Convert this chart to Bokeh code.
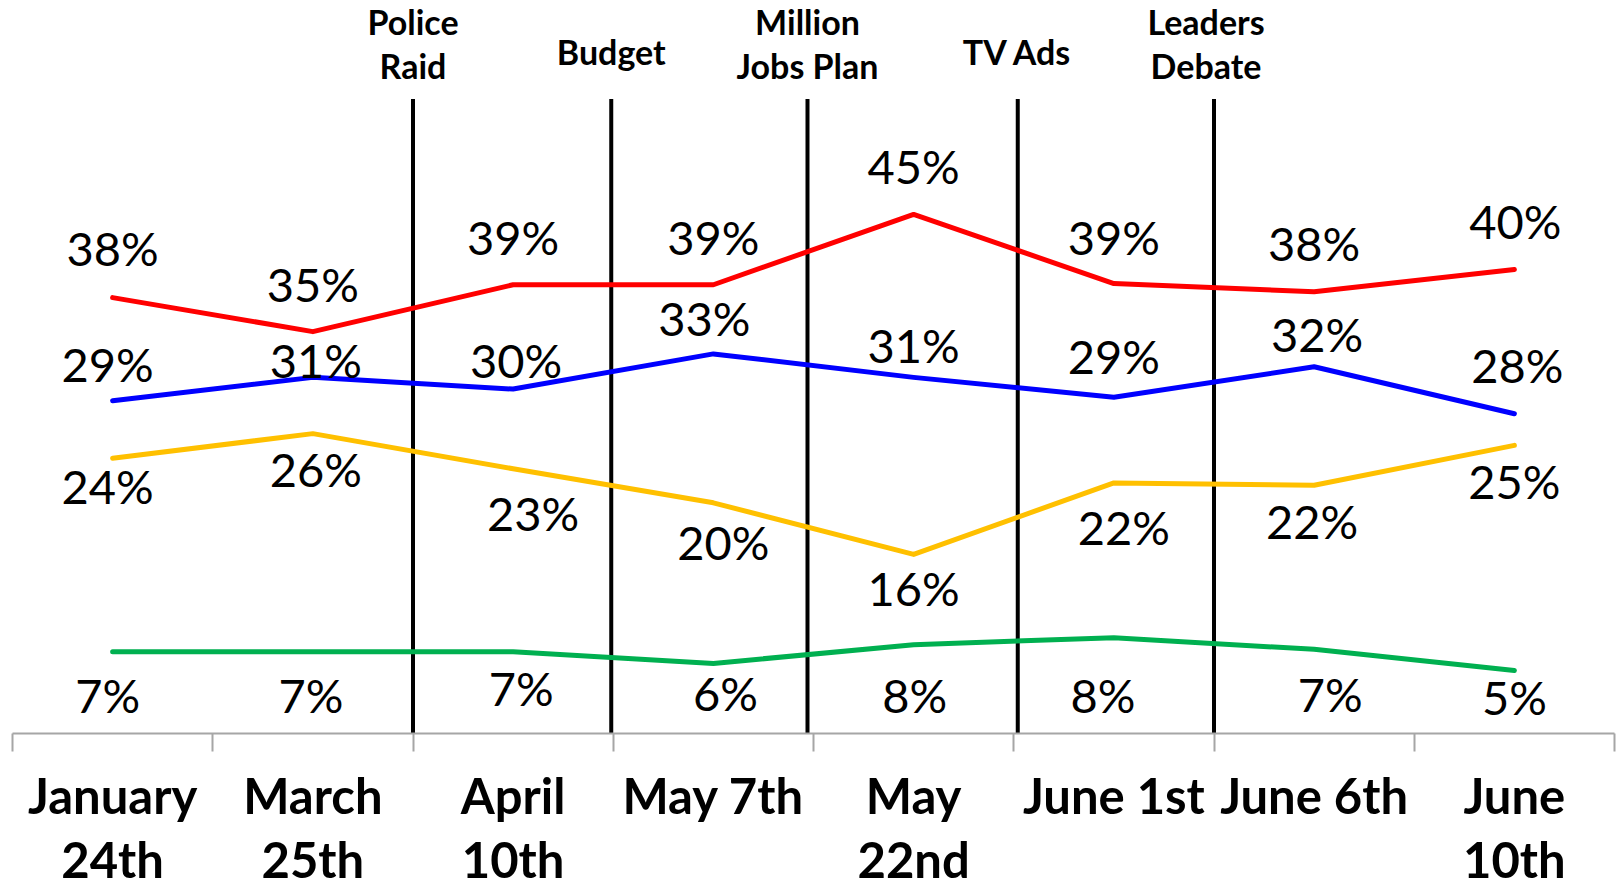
from bokeh.plotting import figure
from bokeh.models import ColumnDataSource, Range1d, FixedTicker
from bokeh.core.properties import value
from bokeh.embed import file_html
from bokeh.resources import INLINE

# ---------------- data ----------------
categories = ["January\n24th", "March\n25th", "April\n10th", "May 7th",
              "May\n22nd", "June 1st", "June 6th", "June\n10th"]

red_values = [37.9, 35.0, 39.0, 39.0, 45.0, 39.1, 38.4, 40.3]
blue_values = [29.1, 31.1, 30.1, 33.1, 31.1, 29.4, 32.0, 28.0]
yellow_values = [24.2, 26.3, 23.3, 20.4, 16.0, 22.1, 21.9, 25.3]
green_values = [7.7, 7.7, 7.7, 6.7, 8.3, 8.9, 7.9, 6.1]

red_labels = ["38%", "35%", "39%", "39%", "45%", "39%", "38%", "40%"]
blue_labels = ["29%", "31%", "30%", "33%", "31%", "29%", "32%", "28%"]
yellow_labels = ["24%", "26%", "23%", "20%", "16%", "22%", "22%", "25%"]
green_labels = ["7%", "7%", "7%", "6%", "8%", "8%", "7%", "5%"]

event_names = ["Police\nRaid", "Budget", "Million\nJobs Plan", "TV Ads", "Leaders\nDebate"]
event_positions = [2.0, 2.99, 3.97, 5.02, 6.0]   # in category units (boundaries)

# ---------------- styling / layout ----------------
W, H = 1617, 891
BORDER_LEFT, BORDER_RIGHT = 12, 3
FRAME_H = 735
PX_PER_UNIT = 11.756
Y0 = 0.723
N = len(categories)

colors = {"red": "#FF0000", "blue": "#0000FF", "yellow": "#FFC000", "green": "#00B050"}

# label offsets in pixels (x, y; y positive = down), relative to each point
label_dx = {
    "red": [0, 0, 0, 0, 0, 0, 0, 1],
    "blue": [-5, 3, 3, -9, 0, 0, 3, 3],
    "yellow": [-5, 3, 20, 10, 0, 10, -2, 0],
    "green": [-5, -2, 8, 12, 1, -11, 16, 0],
}
label_dy = {
    "red": [-50, -48, -48, -48, -48, -47, -49, -48],
    "blue": [-37, -17, -29, -36, -32, -41, -33, -49],
    "yellow": [28, 35, 44, 39, 34, 44, 36, 36],
    "green": [43, 43, 36, 30, 50, 57, 45, 27],
}

y_end = Y0 + FRAME_H / PX_PER_UNIT

p = figure(width=W, height=H, output_backend="svg", toolbar_location=None,
           x_range=Range1d(0, N), y_range=Range1d(Y0, y_end),
           min_border_left=BORDER_LEFT, min_border_right=BORDER_RIGHT, min_border_top=0,
           min_border_bottom=H - FRAME_H, y_axis_location=None)
p.outline_line_color = None
p.xgrid.visible = False
p.ygrid.visible = False
p.background_fill_color = "white"
p.border_fill_color = "white"

xs = [i + 0.5 for i in range(N)]

# axis
ax = p.xaxis[0]
ax.ticker = FixedTicker(ticks=xs, minor_ticks=list(range(N + 1)))
ax.major_label_overrides = {x: c for x, c in zip(xs, categories)}
ax.axis_line_color = "#A6A6A6"
ax.axis_line_width = 2
ax.major_tick_line_color = None
ax.major_tick_out = 0
ax.major_tick_in = 0
ax.minor_tick_line_color = "#A6A6A6"
ax.minor_tick_line_width = 2
ax.minor_tick_out = 18
ax.minor_tick_in = 0
ax.major_label_standoff = 14
ax.major_label_text_font = "Lato"
ax.major_label_text_font_style = "bold"
ax.major_label_text_font_size = "49px"
ax.major_label_text_color = "black"
ax.major_label_text_line_height = 1.12

# event lines
line_top = Y0 + (FRAME_H - 98.7) / PX_PER_UNIT
p.segment(x0=event_positions, x1=event_positions,
          y0=[Y0] * len(event_positions), y1=[line_top] * len(event_positions),
          line_color="black", line_width=4)

# event labels (split into lines)
ev_x, ev_t, ev_dy, ev_dx = [], [], [], []
for pos, name in zip(event_positions, event_names):
    parts = name.split("\n")
    offs = [20.5, 64.5] if len(parts) == 2 else [50.5]
    shift = -8 if name.startswith("Leaders") else 0
    for t, o in zip(parts, offs):
        ev_x.append(pos)
        ev_t.append(t)
        ev_dy.append(o)
        ev_dx.append(shift)
p.text(x=ev_x, y=[y_end] * len(ev_x), text=ev_t, x_offset=ev_dx, y_offset=ev_dy,
       text_align="center", text_baseline="middle",
       text_font=value("Lato"), text_font_style="bold", text_font_size="34px",
       text_color="black")

# series
series = [("red", red_values, red_labels), ("blue", blue_values, blue_labels),
          ("yellow", yellow_values, yellow_labels), ("green", green_values, green_labels)]
for name, vals, labs in series:
    p.line(xs, vals, line_color=colors[name], line_width=5,
           line_cap="round", line_join="round")
for name, vals, labs in series:
    src = ColumnDataSource(dict(x=xs, y=vals, t=labs, dx=label_dx[name], dy=label_dy[name]))
    p.text(x="x", y="y", text="t", x_offset="dx", y_offset="dy", source=src,
           text_align="center", text_baseline="middle",
           text_font=value("Lato"), text_font_size="47px", text_color="black")

open("out.html", "w").write(file_html(p, INLINE))
